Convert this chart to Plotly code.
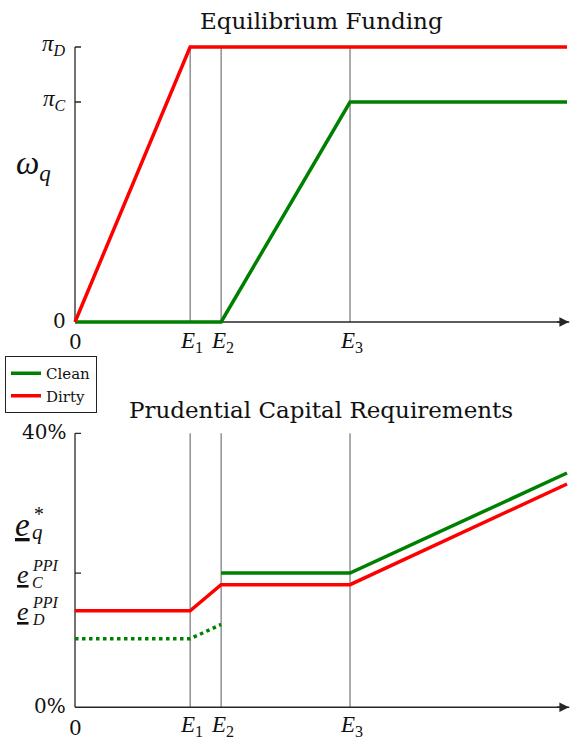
import plotly.graph_objects as go

# ---------------- data (schematic units) ----------------
E1, E2, E3, X_END = 2.34, 2.97, 5.59, 10.0
PI_D, PI_C = 1.0, 0.8

dirty_fund_x = [0, E1, X_END]
dirty_fund_y = [0, PI_D, PI_D]
clean_fund_x = [0, E2, E3, X_END]
clean_fund_y = [0, 0, PI_C, PI_C]

dirty_req_x = [0, E1, E2, E3, X_END]
dirty_req_y = [14.1, 14.1, 17.9, 17.9, 32.6]
clean_req_x = [E2, E3, X_END]
clean_req_y = [19.6, 19.6, 34.2]
clean_dot_x = [0, E1, E2]
clean_dot_y = [10.0, 10.0, 12.1]

E_C_PPI, E_D_PPI = 19.6, 14.1
Y2_MAX = 40

GREEN = "#008000"
RED = "#ff0000"
AX = "#262626"
VL = "#5a5a5a"
FONT = "Liberation Serif"
TFONT = "DejaVu Serif"
W, H = 570, 740

# ---------------- layout geometry (pixels) ----------------
px0, pxu = 75.0, 49.2
xr = [-0.05, 10.05]
t0, tu = 322.0, 275.0
y1r = [-0.03, 1.03]
b0, bu = 707.3, 6.85
y2r = [-1.0, 41.0]

def xdom():
    return [(px0 + xr[0] * pxu) / W, (px0 + xr[1] * pxu) / W]

def ydom(p0, pu, r):
    top = p0 - r[1] * pu
    bot = p0 - r[0] * pu
    return [1 - bot / H, 1 - top / H]

fig = go.Figure()
LW = 3.5
fig.add_trace(go.Scatter(x=clean_fund_x, y=clean_fund_y, mode="lines", name="Clean",
                         line=dict(color=GREEN, width=LW), xaxis="x", yaxis="y"))
fig.add_trace(go.Scatter(x=dirty_fund_x, y=dirty_fund_y, mode="lines", name="Dirty",
                         line=dict(color=RED, width=LW), xaxis="x", yaxis="y"))
fig.add_trace(go.Scatter(x=dirty_req_x, y=dirty_req_y, mode="lines", showlegend=False,
                         line=dict(color=RED, width=LW), xaxis="x2", yaxis="y2"))
fig.add_trace(go.Scatter(x=clean_req_x, y=clean_req_y, mode="lines", showlegend=False,
                         line=dict(color=GREEN, width=LW), xaxis="x2", yaxis="y2"))
fig.add_trace(go.Scatter(x=clean_dot_x, y=clean_dot_y, mode="lines", showlegend=False,
                         line=dict(color=GREEN, width=LW, dash="dot"), xaxis="x2", yaxis="y2"))

shapes = []
annotations = []
tick_len = 6 / pxu

for xa, ya, ytop, yticks, p0 in [("x", "y", PI_D, [PI_C, PI_D], t0), ("x2", "y2", Y2_MAX, [E_C_PPI, E_D_PPI, Y2_MAX], b0)]:
    for e in (E1, E2, E3):
        shapes.append(dict(type="line", xref=xa, yref=ya, x0=e, x1=e, y0=0, y1=ytop,
                           line=dict(color=VL, width=1), layer="below"))
    shapes.append(dict(type="line", xref=xa, yref=ya, x0=0, x1=0, y0=0, y1=ytop,
                       line=dict(color=AX, width=1.3), layer="below"))
    shapes.append(dict(type="line", xref=xa, yref=ya, x0=0, x1=xr[1], y0=0, y1=0,
                       line=dict(color=AX, width=1.6), layer="below"))
    for v in yticks:
        shapes.append(dict(type="line", xref=xa, yref=ya, x0=0, x1=tick_len, y0=v, y1=v,
                           line=dict(color=AX, width=1.3), layer="below"))
    annotations.append(dict(xref="paper", yref="paper", x=569.5 / W, y=1 - p0 / H, ax=-14, ay=0,
                            text="", showarrow=True, arrowhead=2, arrowsize=1.2, arrowwidth=1.6,
                            arrowcolor=AX))

def lab(text, xref, x, yref, y, size, xanchor="center", yanchor="middle", xshift=0, yshift=0, family=FONT):
    annotations.append(dict(text=text, xref=xref, x=x, yref=yref, y=y, showarrow=False,
                            font=dict(family=family, size=size, color="#111"),
                            xanchor=xanchor, yanchor=yanchor, xshift=xshift, yshift=yshift))

# titles
lab("Equilibrium Funding", "paper", 321 / W, "paper", 1 - 21 / H, 23, family=TFONT)
lab("Prudential Capital Requirements", "paper", 321 / W, "paper", 1 - 410 / H, 23, family=TFONT)

# top y tick labels
lab("<i>π</i><sub><i>D</i></sub>", "paper", 68 / W, "y", PI_D, 23, xanchor="right", yshift=2)
lab("<i>π</i><sub><i>C</i></sub>", "paper", 68 / W, "y", PI_C, 23, xanchor="right", yshift=2)
lab("0", "paper", 68 / W, "y", 0, 20, xanchor="right", yshift=1, family=TFONT)
lab("<i>ω</i><sub><i>q</i></sub>", "paper", 14 / W, "y", 0.57, 33, xanchor="left")

# x tick labels
for xa, ya, shift, eshift in [("x", "y", -20, -20), ("x2", "y2", -21, -19)]:
    lab("0", xa, 0, ya, 0, 20, yshift=shift, family=TFONT)
    for e, n in [(E1, "1"), (E2, "2"), (E3, "3")]:
        lab("<i>E</i><sub>%s</sub>" % n, xa, e, ya, 0, 23, yshift=eshift, xshift=1)

# bottom y tick labels
lab("40%", "paper", 68 / W, "y2", Y2_MAX, 20, xanchor="right", yshift=1, family=TFONT)
lab("0%", "paper", 68 / W, "y2", 0, 20, xanchor="right", yshift=1, family=TFONT)
for v, s in [(E_C_PPI, "C"), (E_D_PPI, "D")]:
    lab("<u><i>e</i></u>", "paper", 31 / W, "y2", v, 26, xanchor="right", yshift=-1)
    lab("<i>PPI</i>", "paper", 30 / W, "y2", v, 16, xanchor="left", yshift=8)
    lab("<i>%s</i>" % s, "paper", 30 / W, "y2", v, 16, xanchor="left", yshift=-9)
lab("<u><i>e</i></u>", "paper", 32 / W, "y2", 26.6, 33, xanchor="right")
lab("<i>*</i>", "paper", 31 / W, "y2", 26.6, 20, xanchor="left", yshift=11)
lab("<i>q</i>", "paper", 30 / W, "y2", 26.6, 21, xanchor="left", yshift=-7)

axis_common = dict(showgrid=False, zeroline=False, showline=False, showticklabels=False, ticks="",
                   fixedrange=True)
fig.update_layout(
    width=W, height=H, margin=dict(l=0, r=0, t=0, b=0),
    paper_bgcolor="white", plot_bgcolor="white",
    font=dict(family=FONT, color="#111"),
    xaxis=dict(domain=xdom(), range=xr, anchor="y", **axis_common),
    yaxis=dict(domain=ydom(t0, tu, y1r), range=y1r, anchor="x", **axis_common),
    xaxis2=dict(domain=xdom(), range=xr, anchor="y2", **axis_common),
    yaxis2=dict(domain=ydom(b0, bu, y2r), range=y2r, anchor="x2", **axis_common),
    shapes=shapes, annotations=annotations,
    showlegend=True,
    legend=dict(x=5 / W, y=1 - 356 / H, xanchor="left", yanchor="top",
                bordercolor="#222", borderwidth=1, bgcolor="white",
                font=dict(family=TFONT, size=15), tracegroupgap=0, itemwidth=30),
)

fig.write_html("out.html", config={"displayModeBar": False},
               post_script="document.body.style.margin='0';document.body.style.overflow='hidden';")
